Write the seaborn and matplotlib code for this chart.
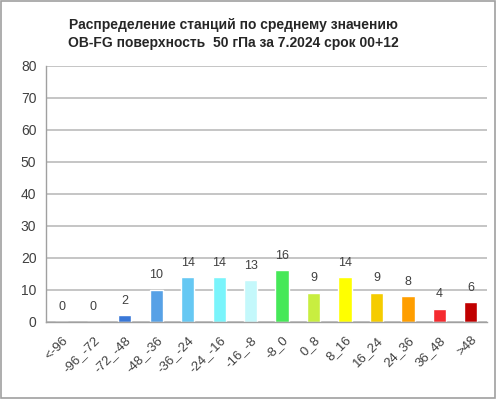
# Распределение станций по среднему значению OB-FG — гистограмма по интервалам

import numpy as np
import pandas as pd
import matplotlib.pyplot as plt
import seaborn as sns
from matplotlib.patches import Rectangle

CATS = ["<-96", "-96_-72", "-72_-48", "-48_-36", "-36_-24", "-24_-16", "-16_-8",
        "-8_0", "0_8", "8_16", "16_24", "24_36", "36_48", ">48"]
COUNTS = [0, 0, 2, 10, 14, 14, 13, 16, 9, 14, 9, 8, 4, 6]
COLORS = ["#1F3F9A", "#2A55C0", "#3A78D8", "#57A1E6", "#66C8F3", "#7AF4FB", "#C4F8FB",
          "#46E858", "#C8EE40", "#FFFF00", "#F5CC00", "#FF9E00", "#F52A2F", "#C00000"]
TITLE = "Распределение станций по среднему значению\nOB-FG поверхность  50 гПа за 7.2024 срок 00+12"

sns.set_style("white")
plt.rcParams["font.family"] = ["Liberation Sans", "DejaVu Sans"]

df = pd.DataFrame({"cat": CATS, "n": COUNTS})

fig = plt.figure(figsize=(4.96, 3.99), dpi=100)
ax = fig.add_axes([0.093, 0.194, 0.888, 0.641])

sns.barplot(data=df, x="cat", y="n", hue="cat", palette=COLORS, legend=False,
            width=0.42, saturation=1, ax=ax)

for cont in ax.containers:
    ax.bar_label(cont, padding=6, fontsize=9, color="#404040")

ax.set_ylim(0, 80)
ax.set_xlim(-0.5, len(CATS) - 0.5)
ax.set_yticks(range(0, 81, 10))
ax.yaxis.grid(True, color="#C0C0C0", linewidth=1.3)
ax.set_axisbelow(True)
ax.set_xlabel("")
ax.set_ylabel("")

# подписи и засечки по оси X
ax.set_xticks(range(len(CATS)))
ax.set_xticklabels(CATS, rotation=45, ha="right", rotation_mode="anchor", fontsize=9.5)
ax.set_xticks(np.arange(-0.5, len(CATS)), minor=True)
ax.tick_params(axis="x", which="major", length=0, pad=9, colors="#404040")
ax.tick_params(axis="x", which="minor", length=4, color="#A0A0A0", width=1)
ax.tick_params(axis="y", length=4, labelsize=10, pad=3, colors="#A0A0A0",
               labelcolor="#404040")

for s in ["top", "right"]:
    ax.spines[s].set_visible(False)
for s in ["left", "bottom"]:
    ax.spines[s].set_color("#A0A0A0")
    ax.spines[s].set_linewidth(1)

fig.text(0.47, 0.955, TITLE, ha="center", va="top", fontsize=10,
         fontweight="bold", linespacing=1.4)

# рамка вокруг всей диаграммы
fig.patches.append(Rectangle((0.002, 0.002), 0.996, 0.996, transform=fig.transFigure,
                             fill=False, edgecolor="#A0A0A0", linewidth=1.2))

fig.savefig("out.png", dpi=100)
plt.close(fig)
